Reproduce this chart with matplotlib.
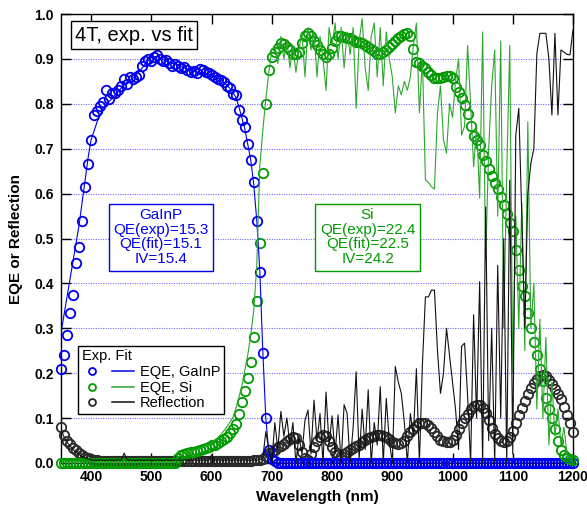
import matplotlib
matplotlib.use("Agg")
import matplotlib.pyplot as plt
from matplotlib.lines import Line2D
from matplotlib.legend_handler import HandlerTuple
import numpy as np

plt.rcParams['font.family'] = ['Liberation Sans', 'DejaVu Sans']

# wavelength grid (nm), 5 nm sampling
wavelength = np.arange(350, 1201, 5)

gainp_exp = [
    0.21, 0.24, 0.285, 0.335, 0.375, 0.445, 0.48, 0.54, 0.615, 0.665, 0.72, 0.775, 0.785, 0.795, 0.805, 0.83, 0.81, 0.825, 0.825, 0.83,
    0.84, 0.855, 0.845, 0.86, 0.855, 0.86, 0.865, 0.885, 0.895, 0.90, 0.895, 0.905, 0.908, 0.90, 0.895, 0.898, 0.89, 0.885, 0.888, 0.885,
    0.88, 0.882, 0.875, 0.87, 0.872, 0.868, 0.878, 0.875, 0.87, 0.868, 0.865, 0.86, 0.855, 0.852, 0.848, 0.84, 0.835, 0.822, 0.82, 0.787,
    0.765, 0.748, 0.71, 0.675, 0.625, 0.54, 0.425, 0.245, 0.10, 0.03, 0.008, 0.004, 0.0, 0.0, 0.0, 0.0, 0.0, 0.0, 0.0, 0.0,
    0.0, 0.0, 0.0, 0.0, 0.0, 0.0, 0.0, 0.0, 0.0, 0.0, 0.0, 0.0, 0.0, 0.0, 0.0, 0.0, 0.0, 0.0, 0.0, 0.0,
    0.0, 0.0, 0.0, 0.0, 0.0, 0.0, 0.0, 0.0, 0.0, 0.0, 0.0, 0.0, 0.0, 0.0, 0.0, 0.0, 0.0, 0.0, 0.0, 0.0,
    0.0, 0.0, 0.0, 0.0, 0.0, 0.0, 0.0, 0.0, 0.0, 0.0, 0.0, 0.0, 0.0, 0.0, 0.0, 0.0, 0.0, 0.0, 0.0, 0.0,
    0.0, 0.0, 0.0, 0.0, 0.0, 0.0, 0.0, 0.0, 0.0, 0.0, 0.0, 0.0, 0.0, 0.0, 0.0, 0.0, 0.0, 0.0, 0.0, 0.0,
    0.0, 0.0, 0.0, 0.0, 0.0, 0.0, 0.0, 0.0, 0.0, 0.0, 0.0,
]

gainp_fit = [
    0.29, 0.33, 0.37, 0.41, 0.45, 0.49, 0.53, 0.58, 0.63, 0.68, 0.72, 0.74, 0.76, 0.775, 0.79, 0.798, 0.805, 0.812, 0.82, 0.827,
    0.835, 0.842, 0.848, 0.853, 0.858, 0.865, 0.872, 0.88, 0.889, 0.896, 0.903, 0.905, 0.905, 0.901, 0.898, 0.895, 0.892, 0.89, 0.887, 0.885,
    0.882, 0.88, 0.877, 0.875, 0.872, 0.871, 0.870, 0.869, 0.868, 0.866, 0.864, 0.861, 0.857, 0.853, 0.848, 0.842, 0.835, 0.826, 0.815, 0.795,
    0.77, 0.745, 0.71, 0.675, 0.62, 0.54, 0.43, 0.25, 0.10, 0.025, 0.005, 0.0, 0.0, 0.0, 0.0, 0.0, 0.0, 0.0, 0.0, 0.0,
    0.0, 0.0, 0.0, 0.0, 0.0, 0.0, 0.0, 0.0, 0.0, 0.0, 0.0, 0.0, 0.0, 0.0, 0.0, 0.0, 0.0, 0.0, 0.0, 0.0,
    0.0, 0.0, 0.0, 0.0, 0.0, 0.0, 0.0, 0.0, 0.0, 0.0, 0.0, 0.0, 0.0, 0.0, 0.0, 0.0, 0.0, 0.0, 0.0, 0.0,
    0.0, 0.0, 0.0, 0.0, 0.0, 0.0, 0.0, 0.0, 0.0, 0.0, 0.0, 0.0, 0.0, 0.0, 0.0, 0.0, 0.0, 0.0, 0.0, 0.0,
    0.0, 0.0, 0.0, 0.0, 0.0, 0.0, 0.0, 0.0, 0.0, 0.0, 0.0, 0.0, 0.0, 0.0, 0.0, 0.0, 0.0, 0.0, 0.0, 0.0,
    0.0, 0.0, 0.0, 0.0, 0.0, 0.0, 0.0, 0.0, 0.0, 0.0, 0.0,
]

si_exp = [
    0.0, 0.0, 0.0, 0.0, 0.0, 0.0, 0.0, 0.0, 0.0, 0.0, 0.0, 0.0, 0.0, 0.0, 0.0, 0.0, 0.0, 0.0, 0.0, 0.0,
    0.0, 0.0, 0.0, 0.0, 0.0, 0.0, 0.0, 0.0, 0.0, 0.0, 0.0, 0.0, 0.0, 0.0, 0.0, 0.0, 0.0, 0.0, 0.0, 0.012,
    0.017, 0.02, 0.022, 0.024, 0.025, 0.027, 0.029, 0.031, 0.033, 0.036, 0.039, 0.041, 0.044, 0.048, 0.053, 0.059, 0.067, 0.076, 0.087, 0.11,
    0.135, 0.16, 0.19, 0.225, 0.28, 0.36, 0.49, 0.645, 0.80, 0.875, 0.905, 0.915, 0.925, 0.935, 0.933, 0.927, 0.92, 0.912, 0.912, 0.916,
    0.935, 0.952, 0.957, 0.952, 0.94, 0.93, 0.92, 0.91, 0.905, 0.912, 0.925, 0.94, 0.95, 0.952, 0.949, 0.947, 0.946, 0.942, 0.938, 0.937,
    0.935, 0.93, 0.927, 0.922, 0.918, 0.912, 0.912, 0.915, 0.92, 0.926, 0.933, 0.94, 0.946, 0.951, 0.955, 0.957, 0.95, 0.922, 0.894, 0.89,
    0.884, 0.88, 0.87, 0.864, 0.857, 0.857, 0.858, 0.86, 0.861, 0.862, 0.857, 0.838, 0.827, 0.812, 0.797, 0.778, 0.75, 0.728, 0.72, 0.708,
    0.685, 0.672, 0.655, 0.64, 0.623, 0.61, 0.592, 0.575, 0.555, 0.535, 0.517, 0.475, 0.43, 0.395, 0.372, 0.335, 0.30, 0.27, 0.24, 0.21,
    0.183, 0.145, 0.12, 0.10, 0.075, 0.048, 0.03, 0.018, 0.011, 0.008, 0.006,
]

si_fit = [
    0.002, 0.002, 0.002, 0.002, 0.002, 0.002, 0.002, 0.002, 0.002, 0.002, 0.002, 0.002, 0.002, 0.002, 0.002, 0.002, 0.002, 0.002, 0.002, 0.002,
    0.002, 0.002, 0.002, 0.002, 0.002, 0.002, 0.002, 0.002, 0.002, 0.002, 0.002, 0.002, 0.002, 0.002, 0.002, 0.002, 0.002, 0.002, 0.002, 0.014,
    0.018, 0.021, 0.024, 0.026, 0.028, 0.030, 0.032, 0.035, 0.038, 0.041, 0.045, 0.05, 0.056, 0.063, 0.071, 0.08, 0.09, 0.10, 0.12, 0.145,
    0.17, 0.205, 0.24, 0.285, 0.34, 0.44, 0.66, 0.74, 0.81, 0.87, 0.92, 0.93, 0.89, 0.95, 0.90, 0.94, 0.88, 0.93, 0.87, 0.92,
    0.96, 0.86, 0.97, 0.92, 0.96, 0.86, 0.95, 0.90, 0.83, 0.97, 0.93, 0.98, 0.90, 0.97, 0.88, 0.96, 0.91, 0.97, 0.79, 0.94,
    0.99, 0.88, 0.83, 0.95, 0.98, 0.86, 0.97, 0.84, 0.96, 0.90, 0.86, 0.78, 0.84, 0.82, 0.85, 0.83, 0.86, 0.93, 0.98, 0.78,
    0.90, 0.63, 0.625, 0.615, 0.61, 0.78, 0.84, 0.72, 0.69, 0.80, 0.77, 0.85, 0.90, 0.73, 0.75, 0.93, 0.80, 0.66, 0.75, 0.59,
    0.96, 0.45, 0.70, 0.84, 0.92, 0.55, 0.94, 0.30, 0.65, 0.93, 0.20, 0.55, 0.30, 0.58, 0.25, 0.76, 0.30, 0.40, 0.12, 0.32,
    0.10, 0.28, 0.04, 0.18, 0.06, 0.12, 0.04, 0.08, 0.02, 0.01, 0.0,
]

refl_exp = [
    0.08, 0.062, 0.05, 0.042, 0.034, 0.028, 0.022, 0.018, 0.014, 0.011, 0.008, 0.007, 0.006, 0.005, 0.005, 0.005, 0.004, 0.005, 0.005, 0.004,
    0.005, 0.005, 0.004, 0.005, 0.005, 0.004, 0.005, 0.005, 0.004, 0.005, 0.005, 0.004, 0.005, 0.005, 0.004, 0.005, 0.005, 0.004, 0.005, 0.005,
    0.004, 0.005, 0.005, 0.004, 0.005, 0.005, 0.004, 0.005, 0.005, 0.004, 0.005, 0.005, 0.004, 0.005, 0.005, 0.004, 0.005, 0.005, 0.004, 0.005,
    0.005, 0.004, 0.005, 0.005, 0.006, 0.006, 0.007, 0.008, 0.015, 0.022, 0.025, 0.03, 0.035, 0.038, 0.042, 0.048, 0.054, 0.058, 0.055, 0.04,
    0.025, 0.012, 0.007, 0.02, 0.036, 0.05, 0.059, 0.062, 0.06, 0.05, 0.036, 0.025, 0.018, 0.016, 0.02, 0.025, 0.029, 0.033, 0.037, 0.041,
    0.046, 0.051, 0.055, 0.058, 0.061, 0.062, 0.062, 0.061, 0.059, 0.053, 0.047, 0.044, 0.043, 0.045, 0.05, 0.06, 0.068, 0.075, 0.082, 0.088,
    0.09, 0.089, 0.085, 0.078, 0.07, 0.06, 0.052, 0.048, 0.046, 0.047, 0.052, 0.063, 0.075, 0.088, 0.10, 0.11, 0.12, 0.127, 0.13, 0.129,
    0.122, 0.112, 0.095, 0.078, 0.065, 0.056, 0.049, 0.046, 0.048, 0.058, 0.072, 0.09, 0.108, 0.123, 0.138, 0.153, 0.168, 0.178, 0.187, 0.193,
    0.196, 0.193, 0.185, 0.175, 0.165, 0.154, 0.142, 0.125, 0.108, 0.09, 0.07,
]

refl_fit = [
    0.075, 0.058, 0.046, 0.038, 0.03, 0.024, 0.019, 0.015, 0.012, 0.009, 0.007, 0.006, 0.006, 0.007, 0.006, 0.006, 0.007, 0.006, 0.006, 0.007,
    0.006, 0.022, 0.006, 0.007, 0.006, 0.006, 0.007, 0.006, 0.006, 0.007, 0.006, 0.006, 0.007, 0.006, 0.006, 0.007, 0.006, 0.006, 0.007, 0.006,
    0.006, 0.007, 0.006, 0.006, 0.007, 0.006, 0.006, 0.007, 0.006, 0.006, 0.018, 0.006, 0.007, 0.006, 0.006, 0.007, 0.006, 0.006, 0.007, 0.006,
    0.006, 0.007, 0.006, 0.006, 0.007, 0.006, 0.008, 0.01, 0.07, 0.03, 0.002, 0.09, 0.03, 0.115, 0.06, 0.10, 0.04, 0.09, 0.0, 0.06,
    0.02, 0.095, 0.118, 0.02, 0.14, 0.05, 0.11, 0.0, 0.158, 0.04, 0.105, 0.02, 0.107, 0.0, 0.13, 0.11, 0.0, 0.08, 0.203, 0.01,
    0.12, 0.03, 0.163, 0.0, 0.09, 0.04, 0.17, 0.0, 0.144, 0.05, 0.0, 0.215, 0.18, 0.155, 0.09, 0.0, 0.11, 0.06, 0.21, 0.0,
    0.22, 0.37, 0.37, 0.385, 0.385, 0.25, 0.155, 0.2, 0.30, 0.24, 0.178, 0.12, 0.03, 0.26, 0.267, 0.15, 0.0, 0.33, 0.1, 0.404,
    0.0, 0.57, 0.05, 0.30, 0.0, 0.44, 0.10, 0.5, 0.0, 0.63, 0.02, 0.73, 0.79, 0.55, 0.30, 0.60, 0.667, 0.70, 0.912, 0.957,
    0.957, 0.957, 0.90, 0.775, 0.957, 0.775, 0.92, 0.915, 0.91, 0.909, 0.965,
]

x_ticks = [400, 500, 600, 700, 800, 900, 1000, 1100, 1200]
y_ticks = [0.0, 0.1, 0.2, 0.3, 0.4, 0.5, 0.6, 0.7, 0.8, 0.9, 1.0]

BLUE = '#0000ee'
GREEN_M = '#009a00'
GREEN_L = '#2ea62e'
BLACK_M = '#2a2a2a'
BLACK_L = '#111111'

fig = plt.figure(figsize=(5.87, 5.07), dpi=100)
ax = fig.add_axes([61/587, 44/507, 512/587, 449/507])

mk = dict(marker='o', linestyle='none', markersize=6.8, markerfacecolor='none',
          markeredgewidth=1.3, clip_on=False)
ax.plot(wavelength, refl_exp, markeredgecolor=BLACK_M, zorder=3, **mk)
ax.plot(wavelength, gainp_exp, markeredgecolor=BLUE, zorder=4, **mk)
ax.plot(wavelength, si_exp, markeredgecolor=GREEN_M, zorder=5, **mk)

ax.plot(wavelength, gainp_fit, color=BLUE, lw=0.8, zorder=6)
ax.plot(wavelength, si_fit, color=GREEN_L, lw=0.8, zorder=6)
ax.plot(wavelength, refl_fit, color=BLACK_L, lw=0.8, zorder=6)

ax.set_xlim(350, 1200)
ax.set_ylim(0, 1.0)
ax.set_xticks(x_ticks)
ax.set_yticks(y_ticks)
ax.set_yticklabels([f"{v:.1f}" for v in y_ticks])
ax.tick_params(axis='both', direction='in', length=7, width=1, top=True, right=True,
               labelsize=10, pad=5)
for lab in ax.get_xticklabels() + ax.get_yticklabels():
    lab.set_fontweight('bold')
ax.yaxis.grid(True, color='#7070ff', linestyle=(0, (1, 1.2)), linewidth=0.8)
ax.set_axisbelow(True)
for s in ax.spines.values():
    s.set_linewidth(1.0)

ax.set_xlabel("Wavelength (nm)", fontsize=11, fontweight='bold', labelpad=4)
ax.set_ylabel("EQE or Reflection", fontsize=11, fontweight='bold', labelpad=8)

ax.text(0.1426, 0.953, "4T, exp. vs fit", transform=ax.transAxes, fontsize=14.5,
        ha='center', va='center', zorder=10,
        bbox=dict(boxstyle='square,pad=0.22', fc='white', ec='black', lw=1))

ax.text(516, 0.503, "GaInP\nQE(exp)=15.3\nQE(fit)=15.1\nIV=15.4", color=BLUE,
        fontsize=11, ha='center', va='center', linespacing=1.05, zorder=10,
        bbox=dict(boxstyle='square,pad=0.3', fc='white', ec=BLUE, lw=1))
ax.text(859, 0.503, "Si\nQE(exp)=22.4\nQE(fit)=22.5\nIV=24.2", color=GREEN_M,
        fontsize=11, ha='center', va='center', linespacing=1.05, zorder=10,
        bbox=dict(boxstyle='square,pad=0.3', fc='white', ec=GREEN_M, lw=1))

lm = dict(marker='o', linestyle='none', markersize=5, markerfacecolor='none', markeredgewidth=1.3)
handles = [
    (Line2D([], [], markeredgecolor=BLUE, **lm), Line2D([], [], color=BLUE, lw=1.1)),
    (Line2D([], [], markeredgecolor=GREEN_M, **lm), Line2D([], [], color=GREEN_L, lw=1.1)),
    (Line2D([], [], markeredgecolor=BLACK_M, **lm), Line2D([], [], color=BLACK_L, lw=1.1)),
]
labels = ["EQE, GaInP", "EQE, Si", "Reflection"]
leg = ax.legend(handles, labels, title="Exp. Fit", loc='lower left',
                bbox_to_anchor=(0.033, 0.109), borderaxespad=0,
                handler_map={tuple: HandlerTuple(ndivide=None, pad=0.6)},
                handlelength=3.6, handletextpad=0.4, labelspacing=0.12,
                fontsize=10.5, title_fontsize=10.5, fancybox=False,
                framealpha=1, edgecolor='black', borderpad=0.25,
                alignment='left')
leg.get_frame().set_linewidth(1.0)
leg.set_zorder(10)

fig.savefig("out.png", dpi=100)
